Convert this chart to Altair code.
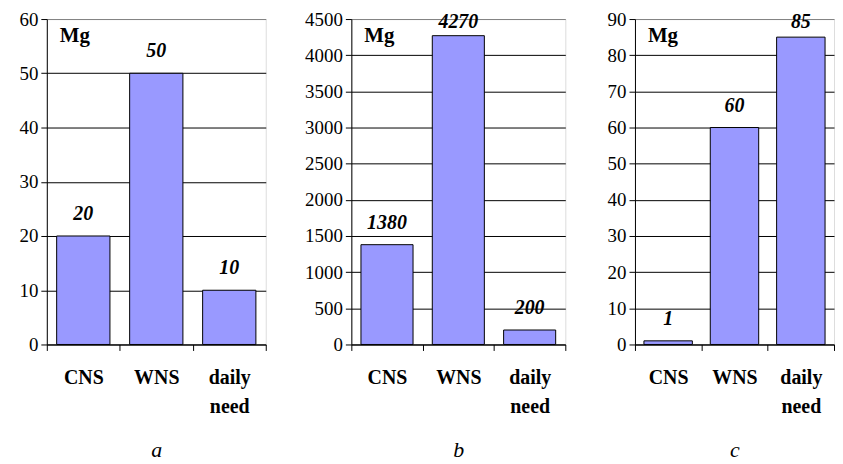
import altair as alt
import pandas as pd

categories = ["CNS", "WNS", "daily need"]
values_a = [20, 50, 10]
values_b = [1380, 4270, 200]
values_c = [1, 60, 85]
y_max = [60, 4500, 90]
y_steps = [10, 500, 10]
panel_letters = ["a", "b", "c"]
element_label = ["Mg"]

FONT = "Liberation Serif"
H = 327
LABEL_GAP = 16   # px between bar top and value label baseline
TOP_ROOM = 9     # px: lowest a value label may sit below the plot top


def panel(values, ymax, step, letter, width, extent):
    df = pd.DataFrame({"cat": categories, "val": values})
    xenc = alt.X(
        "cat:N",
        sort=categories,
        scale=alt.Scale(paddingInner=0, paddingOuter=0),
        axis=alt.Axis(
            title=letter,
            labelAngle=0,
            tickBand="extent",
            labelExpr="split(datum.label, ' ')",
            labelFont=FONT,
            labelFontSize=20,
            labelFontWeight="bold",
            labelColor="black",
            labelLineHeight=29,
            labelBaseline="top",
            labelPadding=17,
            tickSize=6,
            tickColor="black",
            domainColor="black",
            grid=False,
            titleFont=FONT,
            titleFontSize=22,
            titleFontStyle="italic",
            titleFontWeight="normal",
            titleColor="black",
            titlePadding=24,
        ),
    )
    yscale = alt.Scale(domain=[0, ymax], nice=False, zero=True)
    yaxis = alt.Axis(
        title=None,
        values=[int(v) for v in range(0, ymax + 1, step)],
        format="d",
        labelOverlap=False,
        labelFont=FONT,
        labelFontSize=19,
        labelColor="black",
        labelPadding=3,
        tickSize=6,
        tickColor="black",
        domainColor="black",
        grid=True,
        gridColor={"condition": {"test": f"datum.value == {ymax}", "value": "#808080"}, "value": "black"},
        gridWidth=1,
        minExtent=extent,
        maxExtent=extent,
    )
    yenc = alt.Y("val:Q", scale=yscale, axis=yaxis)
    base = alt.Chart(df)
    bars = base.mark_bar(
        fill="#9999FF", stroke="black", strokeWidth=1, width={"band": 0.73}
    ).encode(x=xenc, y=yenc)
    text = (
        base.transform_calculate(
            lab=f"min(datum.val + {LABEL_GAP / H * ymax}, {ymax * (1 - TOP_ROOM / H)})"
        )
        .mark_text(
            font=FONT, fontSize=20, fontWeight="bold", fontStyle="italic",
            baseline="alphabetic", color="black",
        )
        .encode(x=xenc, y=alt.Y("lab:Q", scale=yscale, axis=yaxis), text="val:Q")
    )
    mg = alt.Chart(pd.DataFrame({"t": element_label})).mark_text(
        font=FONT, fontSize=21, fontWeight="bold", align="left",
        baseline="alphabetic", color="black",
    ).encode(x=alt.value(13), y=alt.value(23), text="t:N")
    return alt.layer(bars, text, mg).properties(width=width, height=H)


pa = panel(values_a, y_max[0], y_steps[0], panel_letters[0], 220, 38)
pb = panel(values_b, y_max[1], y_steps[1], panel_letters[1], 215, 50)
pc = panel(values_c, y_max[2], y_steps[2], panel_letters[2], 200, 34)

chart = (
    alt.hconcat(pa, pb, pc, spacing=34)
    .properties(padding={"left": 0, "top": 0, "right": 0, "bottom": 0})
    .configure_view(stroke="#808080", strokeWidth=1)
    .configure(background="white", font=FONT)
    .configure_axis(labelFont=FONT, titleFont=FONT)
    .configure_text(font=FONT)
)

chart.save("out.html", embed_options={"renderer": "svg", "actions": False})
